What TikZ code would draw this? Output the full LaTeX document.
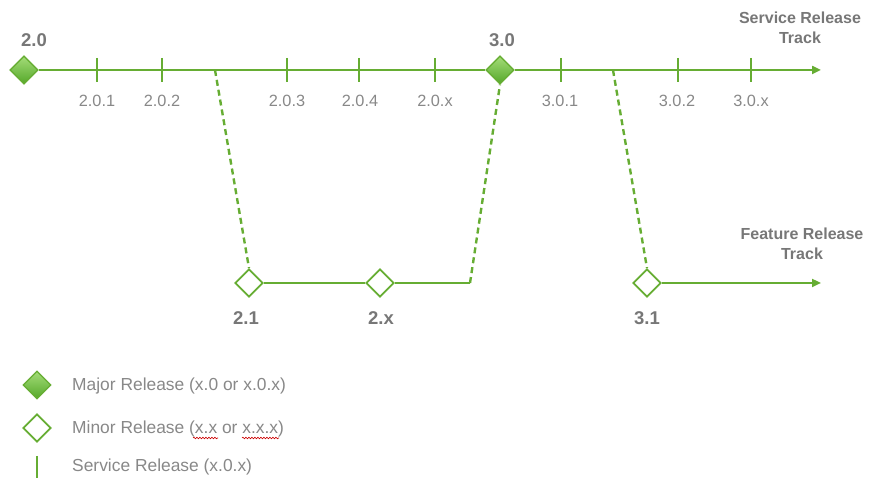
\documentclass[tikz,border=0pt]{standalone}
\usepackage{fontspec}
\setmainfont{Liberation Sans}
\usetikzlibrary{shapes.geometric,arrows.meta,decorations.pathmorphing}
\definecolor{trk}{HTML}{66AD33}
\definecolor{dtop}{HTML}{A4DC78}
\definecolor{dbot}{HTML}{55A82A}
\definecolor{lbl}{HTML}{888888}
\definecolor{blbl}{HTML}{777777}
\tikzset{
  x=1pt,y=-1pt,
  track/.style={draw=trk,line width=2.6pt},
  branch/.style={draw=trk,line width=2.4pt,dash pattern=on 6pt off 4pt},
  tickline/.style={draw=trk,line width=2.2pt},
  major/.style={diamond,draw=trk,line width=1.2pt,inner sep=0pt,minimum width=28pt,minimum height=28pt,top color=dtop,bottom color=dbot},
  minor/.style={diamond,draw=trk,line width=1.8pt,fill=white,inner sep=0pt,minimum width=28pt,minimum height=28pt},
  small/.style={text=lbl,font=\fontsize{16.3}{18}\selectfont,inner sep=0pt},
  big/.style={text=blbl,font=\bfseries\fontsize{18.5}{20}\selectfont,inner sep=0pt},
  track label/.style={text=blbl,font=\bfseries\fontsize{16}{20}\selectfont,align=center,inner sep=0pt},
  legend/.style={text=lbl,font=\fontsize{17.4}{19}\selectfont,anchor=west,inner sep=0pt},
  tip/.style={-{Triangle[length=9pt,width=8pt]}},
  squiggle/.style={draw=red!80!black,line width=0.6pt,decorate,decoration={snake,amplitude=0.8pt,segment length=3pt}}
}
\begin{document}
\begin{tikzpicture}
\useasboundingbox (0,0) rectangle (871,478);
% ticks
\foreach \x in {97,162,287,359,435,561,678,751}{
  \draw[tickline] (\x,58) -- (\x,82);
}
% coordinates
\coordinate (b1) at (215,70);
\coordinate (b2) at (613,70);
\coordinate (send) at (821,70);
\coordinate (j) at (470,283);
\coordinate (fend) at (821,283);
% main track
\node[major] (d20) at (24,70) {};
\node[major] (d30) at (500,70) {};
\draw[track] (d20) -- (d30);
\draw[track,tip] (d30) -- (send);
% feature track
\node[minor] (d21) at (249,283) {};
\node[minor] (d2x) at (380,283) {};
\node[minor] (d31) at (647,283) {};
\draw[track] (d21) -- (d2x) -- (j);
\draw[track,tip] (d31) -- (fend);
\draw[branch] (b1) -- (d21.north);
\draw[branch] (j) -- (d30.south);
\draw[branch] (b2) -- (d31.north);
\node[major] at (24,70) {};
\node[major] at (500,70) {};
% labels
\node[big] (l20) at (34,40) {2.0};
\node[big] (l30) at (502,40) {3.0};
\node[big] (l21) at (246,318) {2.1};
\node[big] (l2x) at (381,318) {2.x};
\node[big] (l31) at (647,318) {3.1};
\node[small] (s201) at (97,101) {2.0.1};
\node[small] (s202) at (162,101) {2.0.2};
\node[small] (s203) at (287,101) {2.0.3};
\node[small] (s204) at (360,101) {2.0.4};
\node[small] (s20x) at (435,101) {2.0.x};
\node[small] (s301) at (560,101) {3.0.1};
\node[small] (s302) at (677,101) {3.0.2};
\node[small] (s30x) at (751,101) {3.0.x};
\node[track label] (srt) at (800,28) {Service Release\\Track};
\node[track label] (frt) at (802,244) {Feature Release\\Track};
% legend
\node[major] (lg1) at (37,385) {};
\node[legend] (lt1) at (72,386) {Major Release (x.0 or x.0.x)};
\node[minor] (lg2) at (37,428) {};
\node[legend] (lt2) at (72,429) {Minor Release (x.x or x.x.x)};
\coordinate (lg3a) at (37,456);
\coordinate (lg3b) at (37,478);
\draw[tickline] (lg3a) -- (lg3b);
\node[legend] (lt3) at (72,467) {Service Release (x.0.x)};
\draw[squiggle] (193,438) -- (218,438);
\draw[squiggle] (242,438) -- (279,438);
\end{tikzpicture}
\end{document}
